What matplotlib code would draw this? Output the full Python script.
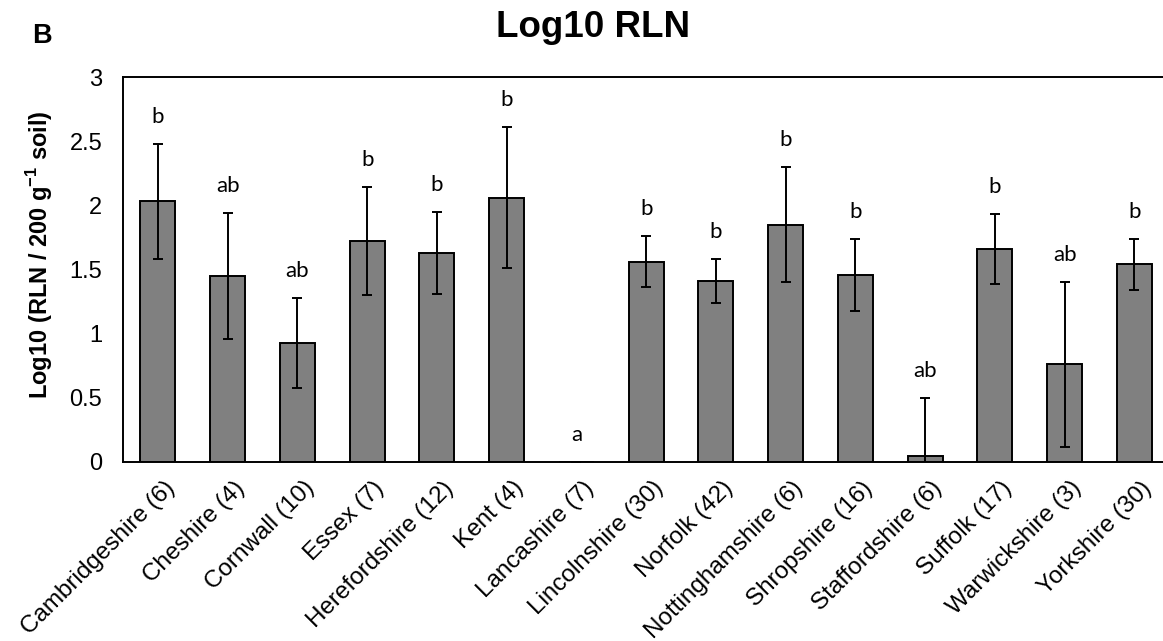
# -*- coding: utf-8 -*-
"""
Log10 RLN by county, bar chart with error bars and significance letters
"""

import numpy as np
import matplotlib.pyplot as plt
import matplotlib.transforms as mtransforms

### data
counties = ['Cambridgeshire (6)', 'Cheshire (4)', 'Cornwall (10)', 'Essex (7)',
            'Herefordshire (12)', 'Kent (4)', 'Lancashire (7)', 'Lincolnshire (30)',
            'Norfolk (42)', 'Nottinghamshire (6)', 'Shropshire (16)', 'Staffordshire (6)',
            'Suffolk (17)', 'Warwickshire (3)', 'Yorkshire (30)']
log_rln  = [2.03, 1.45, 0.93, 1.72, 1.63, 2.06, 0.0, 1.56, 1.41, 1.85, 1.46, 0.05, 1.66, 0.76, 1.54]
err      = [0.45, 0.49, 0.35, 0.42, 0.32, 0.55, 0.0, 0.20, 0.17, 0.45, 0.28, 0.45, 0.27, 0.64, 0.20]
letters  = ['b', 'ab', 'ab', 'b', 'b', 'b', 'a', 'b', 'b', 'b', 'b', 'ab', 'b', 'ab', 'b']
yticks   = [0, 0.5, 1, 1.5, 2, 2.5, 3]
ytick_labels = ['0', '0.5', '1', '1.5', '2', '2.5', '3']

### style
plt.rcParams['font.family'] = ['Liberation Sans', 'DejaVu Sans']
plt.rcParams['mathtext.fontset'] = 'custom'
plt.rcParams['mathtext.rm'] = 'Liberation Sans'
plt.rcParams['mathtext.bf'] = 'Liberation Sans:bold'

W, H = 1163, 641
fig = plt.figure(figsize=(W/100, H/100), dpi=100)
ax = fig.add_axes([123/W, (H-462)/H, (W-123)/W, (462-77)/H])

x = np.arange(len(counties))
ax.bar(x, log_rln, width=0.5, color='#808080', edgecolor='black', linewidth=1.4, zorder=2)
ax.errorbar(x, log_rln, yerr=err, fmt='none', ecolor='black', elinewidth=1.4,
            capsize=3.6, capthick=1.4, zorder=3)

# significance letters above error bars
for i in range(len(x)):
    ax.text(x[i], log_rln[i] + err[i] + 0.165, letters[i], ha='center', va='baseline',
            fontsize=16, family=['Lato', 'DejaVu Sans'])

ax.set_xlim(-0.5, 14.41)
ax.set_ylim(0, 3)
ax.set_yticks(yticks)
ax.set_yticklabels(ytick_labels, fontsize=17)
ax.set_xticks(x)
ax.set_xticklabels(counties, fontsize=17.5, rotation=45, ha='right', va='top', rotation_mode='anchor')
ax.tick_params(axis='both', length=0)
ax.tick_params(axis='y', pad=15)
ax.tick_params(axis='x', pad=0)

# shift rotated labels so their ends sit just right of / below the tick
offset = mtransforms.ScaledTranslation(6/100, -15/100, fig.dpi_scale_trans)
for lab in ax.get_xticklabels():
    lab.set_transform(lab.get_transform() + offset)

for s in ['left', 'top', 'bottom']:
    ax.spines[s].set_linewidth(1.4)
ax.spines['right'].set_visible(False)

fig.text(593.5/W, 1 - 36.7/H, 'Log10 RLN', ha='center', va='baseline', fontsize=26.5, fontweight='bold')
fig.text(32/W, 1 - 43/H, 'B', ha='left', va='baseline', fontsize=19.5, fontweight='bold')
fig.text(40/W, 1 - 254.5/H, r'Log10 (RLN / 200 g$^{\mathbf{-1}}$ soil)', rotation=90,
         ha='center', va='center', fontsize=17, fontweight='bold')

fig.savefig('out.png', dpi=100)
